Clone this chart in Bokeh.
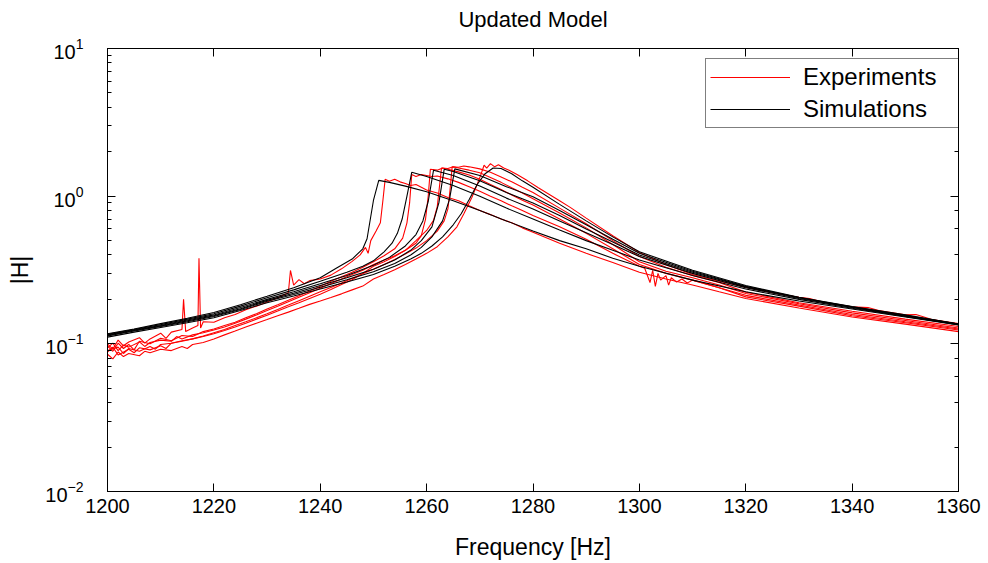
from bokeh.plotting import figure
from bokeh.models import Range1d, LinearAxis, LogAxis, Legend, LegendItem, FixedTicker
from bokeh.embed import file_html
from bokeh.resources import INLINE

FONT = "Liberation Sans"

TITLE = "Updated Model"

# ---------------- Simulations (black) ----------------
sim1_f = [1200,1205,1210,1215,1220,1225,1230,1235,1240,1243,1246,1248,1248.8,1250,1251,
          1253,1256,1260,1265,1270,1275,1280,1285,1290,1295,1300,1310,1320,1330,1340,1350,1360]
sim1_h = [0.117,0.126,0.137,0.149,0.163,0.184,0.210,0.240,0.280,0.325,0.375,0.440,0.515,0.935,1.28,
          1.24,1.17,1.07,0.93,0.80,0.68,0.58,0.50,0.44,0.38,0.335,0.27,0.225,0.195,0.172,0.152,0.134]

sim2_f = [1200,1205,1210,1215,1220,1225,1230,1235,1240,1245,1248,1250,1252,1253.5,1254.5,1255.4,1256.3,1257.2,
          1260,1265,1270,1275,1280,1285,1290,1295,1300,1310,1320,1330,1340,1350,1360]
sim2_h = [0.116,0.125,0.135,0.147,0.160,0.180,0.205,0.232,0.265,0.305,0.335,0.365,0.420,0.480,0.560,0.700,1.00,1.45,
          1.36,1.18,1.00,0.83,0.70,0.59,0.50,0.43,0.37,0.29,0.235,0.200,0.174,0.153,0.135]

sim3_f = [1200,1205,1210,1215,1220,1225,1230,1235,1240,1245,1250,1253,1256,1258,1259.3,1260.3,1261.3,
          1265,1270,1275,1280,1285,1290,1295,1300,1310,1320,1330,1340,1350,1360]
sim3_h = [0.115,0.124,0.133,0.145,0.157,0.176,0.200,0.225,0.255,0.290,0.340,0.385,0.460,0.550,0.680,0.920,1.50,
          1.38,1.17,0.97,0.82,0.68,0.565,0.47,0.39,0.30,0.240,0.203,0.176,0.154,0.135]

sim4_f = [1200,1205,1210,1215,1220,1225,1230,1235,1240,1245,1250,1254,1257,1259,1261,1262.3,1263.3,
          1265,1270,1275,1280,1285,1290,1295,1300,1310,1320,1330,1340,1350,1360]
sim4_h = [0.114,0.123,0.132,0.143,0.155,0.173,0.197,0.220,0.248,0.280,0.320,0.370,0.430,0.500,0.620,0.900,1.52,
          1.47,1.27,1.06,0.90,0.74,0.60,0.49,0.40,0.305,0.243,0.205,0.177,0.155,0.136]

sim5_f = [1200,1205,1210,1215,1220,1225,1230,1235,1240,1245,1250,1254,1257,1259,1261,1263,1264.3,1265.3,
          1270,1275,1280,1285,1290,1295,1300,1310,1320,1330,1340,1350,1360]
sim5_h = [0.113,0.122,0.131,0.141,0.153,0.171,0.194,0.216,0.242,0.272,0.308,0.350,0.400,0.450,0.530,0.680,0.950,1.53,
          1.38,1.16,0.99,0.80,0.64,0.51,0.41,0.31,0.245,0.206,0.178,0.156,0.136]

sim6_f = [1200,1205,1210,1215,1220,1225,1230,1235,1240,1245,1250,1254,1257,1259,1261,1263,1265,1266.5,1268,
          1269.5,1271,1272.5,1274,1276,1278,1280,1285,1290,1295,1300,1310,1320,1330,1340,1350,1360]
sim6_h = [0.111,0.120,0.129,0.139,0.150,0.168,0.190,0.211,0.235,0.262,0.295,0.335,0.375,0.410,0.460,0.530,0.640,0.760,0.950,
          1.20,1.42,1.55,1.54,1.42,1.27,1.15,0.88,0.68,0.53,0.42,0.315,0.248,0.207,0.179,0.157,0.136]

# ---------------- Experiments (red) ----------------
exp1_f = [1200,1201,1202,1203,1204,1206,1207,1208,1210,1211,1212,1214,1214.3,1214.7,1216,1217,1217.2,1217.5,1218,
          1220,1222,1224,1226,1228,1230,1232,1234,1234.4,1235,1236,1237,1238,1240,1242,1244,1246,1247.5,1248.5,
          1249,1249.5,1250.5,1251.3,1251.8,1252.2,1253,1254,1255,1256,1257,1258,1260,1262,1264,1266,1268,1270,
          1272,1274,1276,1278,1280,1285,1290,1295,1300,1305,1310,1315,1320,1330,1340,1350,1360]
exp1_h = [0.100,0.092,0.106,0.097,0.103,0.110,0.101,0.108,0.118,0.109,0.120,0.125,0.200,0.121,0.128,0.133,0.380,0.128,0.141,
          0.140,0.150,0.158,0.170,0.180,0.192,0.205,0.222,0.314,0.250,0.272,0.255,0.268,0.275,0.292,0.322,0.362,0.400,0.450,
          0.410,0.500,0.580,0.660,0.950,1.300,1.26,1.30,1.25,1.22,1.18,1.20,1.10,1.05,0.98,0.93,0.86,0.80,
          0.75,0.70,0.66,0.61,0.57,0.48,0.41,0.355,0.305,0.275,0.25,0.225,0.203,0.175,0.152,0.136,0.121]

exp2_f = [1200,1201,1202,1203,1204,1205,1206,1208,1210,1212,1214,1216,1218,1220,1222,1224,1226,1228,1230,1232,
          1234,1236,1238,1240,1242,1244,1246,1248,1250,1252,1254,1255.5,1256.3,1256.8,1257.2,1258,1259,1260,1261,
          1262,1264,1266,1268,1270,1272,1274,1276,1278,1280,1285,1290,1295,1300,1301,1302,1302.5,1303,1303.5,
          1304,1305,1305.5,1306,1307,1308,1309,1310,1315,1320,1330,1340,1350,1360]
exp2_h = [0.097,0.089,0.101,0.093,0.099,0.091,0.104,0.100,0.109,0.105,0.114,0.112,0.121,0.126,0.133,0.140,0.150,0.160,0.172,0.184,
          0.197,0.212,0.228,0.245,0.265,0.285,0.305,0.330,0.360,0.395,0.440,0.520,0.660,0.900,1.40,1.36,1.40,1.38,1.36,
          1.37,1.31,1.24,1.16,1.08,1.00,0.93,0.86,0.80,0.74,0.62,0.51,0.41,0.335,0.325,0.260,0.315,0.245,0.300,
          0.270,0.290,0.250,0.280,0.262,0.275,0.258,0.270,0.240,0.208,0.180,0.155,0.139,0.124]

exp3_f = [1200,1201,1202,1203,1204,1206,1207,1208,1210,1212,1213,1214,1216,1218,1220,1222,1224,1226,1228,1230,
          1232,1234,1236,1238,1240,1242,1244,1246,1248,1250,1252,1254,1256,1258,1259,1259.8,1260.3,1260.7,1262,
          1263,1264,1266,1268,1270,1272,1274,1276,1278,1280,1285,1290,1295,1300,1305,1310,1315,1320,1330,1340,1350,1360]
exp3_h = [0.094,0.101,0.090,0.098,0.095,0.103,0.096,0.102,0.106,0.104,0.112,0.108,0.115,0.119,0.124,0.130,0.138,0.147,0.157,0.168,
          0.180,0.193,0.207,0.222,0.238,0.256,0.275,0.295,0.315,0.345,0.370,0.395,0.430,0.480,0.540,0.700,1.00,1.52,1.50,
          1.55,1.52,1.46,1.39,1.30,1.20,1.11,1.02,0.94,0.87,0.70,0.56,0.44,0.345,0.30,0.27,0.24,0.213,0.183,0.158,0.141,0.126]

exp4_f = [1200,1202,1203,1204,1206,1208,1209,1210,1212,1214,1216,1218,1220,1222,1224,1226,1228,1230,1232,1234,
          1236,1238,1240,1242,1244,1246,1248,1250,1252,1254,1256,1258,1260,1261.3,1262,1262.4,1262.8,1264,1265,
          1266,1268,1270,1272,1274,1276,1278,1280,1285,1290,1295,1300,1305,1310,1315,1320,1330,1340,1350,1360]
exp4_h = [0.090,0.095,0.086,0.093,0.089,0.096,0.092,0.099,0.101,0.104,0.108,0.112,0.117,0.123,0.130,0.138,0.147,0.156,0.167,0.178,
          0.190,0.203,0.217,0.233,0.252,0.272,0.300,0.335,0.360,0.390,0.430,0.500,0.586,0.685,0.850,1.15,1.55,1.54,1.58,
          1.55,1.50,1.44,1.34,1.24,1.14,1.05,0.96,0.77,0.61,0.47,0.36,0.31,0.28,0.25,0.219,0.187,0.162,0.144,0.128]

exp5_f = [1200,1201,1202,1204,1205,1206,1208,1210,1211,1212,1214,1216,1218,1220,1222,1224,1226,1228,1230,1232,
          1234,1236,1238,1240,1242,1244,1246,1248,1250,1252,1254,1256,1258,1260,1262,1263.3,1264,1264.4,1264.8,
          1266,1267,1268,1270,1272,1274,1276,1278,1280,1285,1290,1295,1300,1305,1310,1315,1320,1330,1340,1350,1360]
exp5_h = [0.088,0.095,0.084,0.092,0.087,0.094,0.091,0.097,0.093,0.101,0.105,0.108,0.113,0.119,0.125,0.133,0.141,0.150,0.160,0.171,
          0.183,0.196,0.210,0.225,0.241,0.258,0.278,0.298,0.320,0.345,0.372,0.405,0.445,0.500,0.580,0.680,0.820,1.10,1.58,
          1.57,1.60,1.58,1.53,1.45,1.35,1.25,1.15,1.06,0.83,0.65,0.50,0.39,0.33,0.29,0.26,0.224,0.190,0.166,0.147,0.131]

exp6_f = [1200,1201,1202,1203,1204,1206,1207,1208,1210,1212,1214,1215,1216,1218,1220,1222,1224,1226,1228,1230,
          1232,1234,1236,1238,1240,1242,1244,1246,1248,1250,1252,1254,1256,1258,1260,1262,1264,1265.7,1267,1268.5,
          1269.5,1270.2,1270.8,1271.3,1272,1272.8,1273.5,1274.5,1275.5,1277,1279,1281,1283,1285,1287,1290,1295,
          1300,1305,1310,1315,1320,1325,1330,1332,1335,1340,1343,1345,1350,1352,1355,1360]
exp6_h = [0.085,0.079,0.088,0.082,0.086,0.083,0.089,0.087,0.092,0.090,0.096,0.093,0.099,0.102,0.108,0.115,0.122,0.130,0.138,0.146,
          0.155,0.164,0.174,0.185,0.195,0.206,0.218,0.232,0.246,0.275,0.295,0.318,0.345,0.375,0.410,0.455,0.530,0.620,0.760,0.980,
          1.20,1.40,1.62,1.55,1.66,1.58,1.63,1.55,1.50,1.40,1.27,1.14,1.03,0.93,0.84,0.71,0.54,
          0.415,0.345,0.295,0.265,0.242,0.222,0.207,0.203,0.190,0.178,0.176,0.168,0.157,0.158,0.146,0.137]

exp_f = [exp1_f, exp2_f, exp3_f, exp4_f, exp5_f, exp6_f]
exp_h = [exp1_h, exp2_h, exp3_h, exp4_h, exp5_h, exp6_h]
sim_f = [sim1_f, sim2_f, sim3_f, sim4_f, sim5_f, sim6_f]
sim_h = [sim1_h, sim2_h, sim3_h, sim4_h, sim5_h, sim6_h]

x_ticks = [1200, 1220, 1240, 1260, 1280, 1300, 1320, 1340, 1360]

p = figure(width=988, height=563, x_range=Range1d(1200, 1360), y_range=Range1d(0.01, 10),
           y_axis_type="log", output_backend="svg", toolbar_location=None,
           min_border_left=107, min_border_right=30, min_border_top=48, min_border_bottom=72,
           title=TITLE)
p.title.align = "center"
p.title.text_font = FONT
p.title.text_font_size = "22px"
p.title.text_font_style = "normal"
p.title.text_color = "black"
p.title.standoff = 6
p.grid.visible = False
p.outline_line_color = "black"
p.outline_line_width = 1
p.background_fill_color = "white"
p.border_fill_color = "white"

red_r = None
for f, h in zip(exp_f, exp_h):
    r = p.line(f, h, line_color="#ff0000", line_width=1.1)
    if red_r is None:
        red_r = r
blk_r = None
for f, h in zip(sim_f, sim_h):
    r = p.line(f, h, line_color="#000000", line_width=1.1)
    if blk_r is None:
        blk_r = r

# bottom axis
xa = p.xaxis[0]
xa.ticker = FixedTicker(ticks=x_ticks)
xa.major_tick_in = 8
xa.major_tick_out = 0
xa.minor_tick_in = 0
xa.minor_tick_out = 0
xa.major_label_standoff = 7
xa.major_label_text_font = FONT
xa.major_label_text_font_size = "20px"
xa.major_label_text_color = "black"
xa.axis_line_color = "black"
xa.major_tick_line_color = "black"
xa.axis_label = "Frequency [Hz]"
xa.axis_label_text_font = FONT
xa.axis_label_text_font_size = "23px"
xa.axis_label_text_font_style = "normal"
xa.axis_label_text_color = "black"
xa.axis_label_standoff = 18

ya = p.yaxis[0]
ya.major_tick_in = 8
ya.major_tick_out = 0
ya.minor_tick_in = 4
ya.minor_tick_out = 0
ya.major_label_standoff = 24
ya.major_label_text_font = FONT
ya.major_label_text_font_size = "20px"
ya.major_label_text_color = "black"
ya.axis_line_color = "black"
ya.major_tick_line_color = "black"
ya.minor_tick_line_color = "black"
ya.axis_label = "|H|"
ya.axis_label_text_font = FONT
ya.axis_label_text_font_size = "23px"
ya.axis_label_text_font_style = "normal"
ya.axis_label_text_color = "black"
ya.axis_label_standoff = 9

# mirrored tick axes (top / right); the top one also spaces the title away from the frame
top = LinearAxis(ticker=FixedTicker(ticks=x_ticks), major_tick_in=8, major_tick_out=0,
                 minor_tick_in=0, minor_tick_out=0, major_label_text_font_size="2px",
                 major_label_text_color="white", major_label_standoff=10,
                 axis_line_color="black", major_tick_line_color="black")
p.add_layout(top, "above")
right = LogAxis(major_tick_in=8, major_tick_out=0, minor_tick_in=4, minor_tick_out=0,
                major_label_text_font_size="2px", major_label_text_alpha=0,
                major_label_standoff=0, axis_line_color="black",
                major_tick_line_color="black", minor_tick_line_color="black")
p.add_layout(right, "right")

legend = Legend(items=[LegendItem(label="Experiments", renderers=[red_r]),
                       LegendItem(label="Simulations", renderers=[blk_r])],
                location=(598, 363))
legend.label_text_font = FONT
legend.label_text_font_size = "24px"
legend.label_text_color = "black"
legend.glyph_width = 80
legend.glyph_height = 24
legend.label_height = 24
legend.label_width = 151
legend.label_standoff = 13
legend.padding = 4
legend.spacing = 4
legend.border_line_color = "black"
legend.border_line_width = 1
legend.background_fill_alpha = 1
p.add_layout(legend)

open("out.html", "w").write(file_html(p, INLINE))
